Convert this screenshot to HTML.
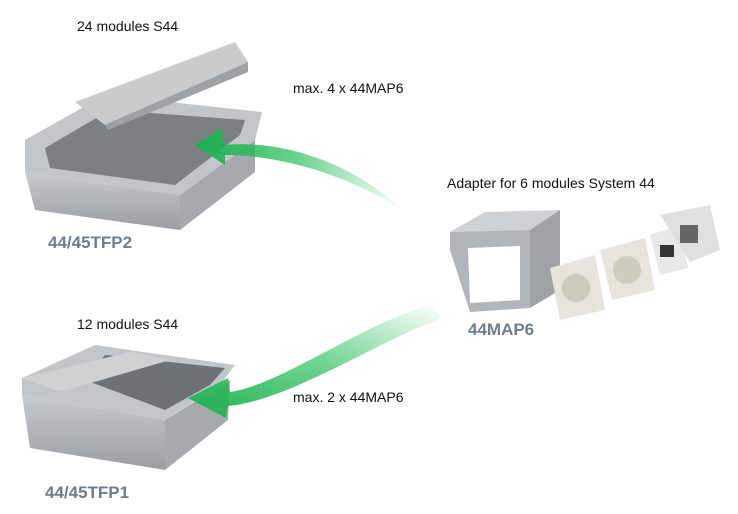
<!DOCTYPE html>
<html><head><meta charset="utf-8"><style>
body{margin:0;background:#fff;width:738px;height:514px;overflow:hidden;position:relative;font-family:"Liberation Sans",Arial,sans-serif}
.t{position:absolute;font-size:14px;color:#111;white-space:nowrap}
.g{position:absolute;font-size:17px;font-weight:bold;color:#6f7d8a;white-space:nowrap}
svg{position:absolute;left:0;top:0}
</style></head><body>
<svg width="738" height="514" viewBox="0 0 738 514">
<defs>
<linearGradient id="ga" x1="1" y1="0" x2="0" y2="0"><stop offset="0" stop-color="#2fc060" stop-opacity="0"/><stop offset="0.5" stop-color="#2fc060" stop-opacity="0.7"/><stop offset="1" stop-color="#1fb050"/></linearGradient>
<linearGradient id="gb" x1="1" y1="0" x2="0" y2="1"><stop offset="0" stop-color="#2fc060" stop-opacity="0"/><stop offset="0.5" stop-color="#2fc060" stop-opacity="0.7"/><stop offset="1" stop-color="#1fb050"/></linearGradient>
<linearGradient id="box" x1="0" y1="0" x2="0" y2="1"><stop offset="0" stop-color="#c8cacc"/><stop offset="1" stop-color="#9a9ea2"/></linearGradient>
</defs>
<!-- top box -->
<polygon points="25,140 105,95 262,112 255,140 180,195 25,172" fill="#c3c6c9"/>
<polygon points="45,148 110,110 245,120 240,135 175,185 50,168" fill="#7c8084"/>
<polygon points="25,172 180,195 180,230 35,210" fill="url(#box)"/>
<polygon points="180,195 255,140 255,172 180,230" fill="#a6aaae"/>
<polygon points="75,102 235,42 248,62 105,125" fill="#c9cbcd"/>
<polygon points="105,125 248,62 248,72 108,130" fill="#9fa2a5"/>
<!-- bottom box -->
<polygon points="22,378 95,345 235,365 220,385 165,420 22,395" fill="#c3c6c9"/>
<polygon points="85,380 105,355 225,368 210,385 165,410" fill="#6e7276"/>
<polygon points="22,378 130,352 170,360 60,392" fill="#cfd1d3"/>
<polygon points="22,395 165,420 165,470 30,448" fill="url(#box)"/>
<polygon points="165,420 230,380 228,420 165,470" fill="#a6aaae"/>
<!-- arrows -->
<path d="M405,212 C350,160 280,140 225,145 L222,128 L195,145 L225,165 L225,155 C280,155 350,175 405,212 Z" fill="url(#ga)"/>
<path d="M430,305 C360,325 280,385 230,392 L228,378 L188,398 L226,418 L228,406 C290,400 370,345 442,318 Z" fill="url(#gb)"/>
<!-- adapter -->
<polygon points="450,232 485,212 560,210 530,230" fill="#cfd2d4"/>
<polygon points="450,232 530,230 530,308 470,312 450,250" fill="#b2b6ba"/>
<polygon points="468,248 520,246 520,300 470,303" fill="#fff"/>
<polygon points="530,230 560,210 560,290 530,308" fill="#9ea2a6"/>
<!-- sockets -->
<polygon points="550,268 595,255 605,310 560,320" fill="#e6e4dc"/>
<circle cx="576" cy="288" r="14" fill="#cfcbbf"/>
<polygon points="600,250 645,238 655,290 612,300" fill="#e6e4dc"/>
<circle cx="627" cy="270" r="14" fill="#cfcbbf"/>
<polygon points="650,235 680,225 688,268 660,275" fill="#e8e8e8"/>
<rect x="660" y="245" width="14" height="12" fill="#333"/>
<polygon points="660,215 710,205 720,250 690,262" fill="#e0e0e0"/>
<rect x="680" y="225" width="18" height="18" fill="#666"/>
</svg>
<div class="t" style="left:77px;top:18px">24 modules S44</div>
<div class="t" style="left:293px;top:80px">max. 4 x 44MAP6</div>
<div class="t" style="left:447px;top:175px">Adapter for 6 modules System 44</div>
<div class="g" style="left:48px;top:233px">44/45TFP2</div>
<div class="g" style="left:468px;top:320px">44MAP6</div>
<div class="t" style="left:77px;top:316px">12 modules S44</div>
<div class="t" style="left:293px;top:389px">max. 2 x 44MAP6</div>
<div class="g" style="left:45px;top:483px">44/45TFP1</div>
</body></html>
